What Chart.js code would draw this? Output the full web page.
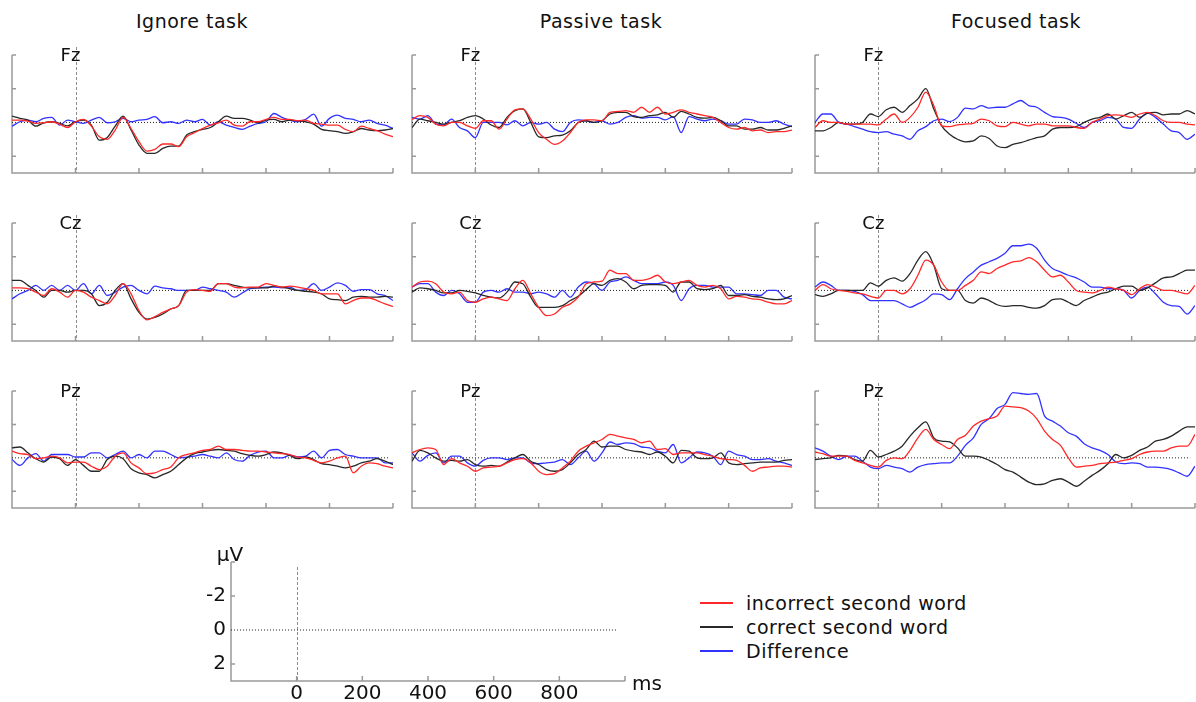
<!DOCTYPE html>
<html>
<head>
<meta charset="utf-8">
<script src="https://cdn.jsdelivr.net/npm/chart.js@4.4.1/dist/chart.umd.min.js"></script>
<style>
  body { margin: 0; background: #fff; width: 1196px; height: 702px; position: relative; overflow: hidden;
         font-family: "DejaVu Sans", sans-serif; color: #111; }
  canvas { position: absolute; }
  .title { position: absolute; top: 10px; width: 300px; font-size: 19px; letter-spacing: 0.5px; line-height: 22px; text-align: center; }
  .legend { position: absolute; left: 700px; top: 591px; font-size: 19px; letter-spacing: 0.5px; }
  .legend div { height: 24px; display: flex; align-items: center; white-space: nowrap; }
  .legend .ln { display: inline-block; width: 33px; height: 2px; margin-right: 13px; }
</style>
</head>
<body>
<div id="root"></div>
<script>
// time axis (ms) and ticks
const timeMs = [-200, -175, -150, -125, -100, -75, -50, -25,
  0, 25, 50, 75, 100, 125, 150, 175, 200, 225, 250, 275, 300, 325, 350, 375,
  400, 425, 450, 475, 500, 525, 550, 575, 600, 625, 650, 675, 700, 725, 750, 775,
  800, 825, 850, 875, 900, 925, 950, 975, 1000];
const xTicks = [0, 200, 400, 600, 800, 1000];
const yTicks = [-4, -2, 2];
const scaleYLabels = [-2, 0, 2];
const scaleXLabels = [0, 200, 400, 600, 800];
const zeroLineEnd = 985;

const taskNames = ["Ignore task", "Passive task", "Focused task"];
const electrodes = ["Fz", "Cz", "Pz"];
const seriesNames = ["incorrect second word", "correct second word", "Difference"];
const seriesColors = ["rgb(255,40,40)", "rgb(40,40,40)", "rgb(50,50,255)"];

// values in microvolts (negative plotted upward)
// Ignore task
const ignoreFzIncorrect = [-0.14, -0.14, -0.08, 0.06, 0.02, -0.04, 0.1, 0.3,
  -0.04, -0.18, 0.22, 0.85, 1.0, 0.45, -0.3, 0.36, 1.14, 1.7, 1.6, 1.28, 1.28, 1.44, 0.85, 0.61,
  0.36, 0.16, 0.02, -0.14, 0.16, 0.22, -0.04, -0.04, -0.18, -0.3, -0.18, -0.18, -0.1, -0.14, 0.06, 0.1,
  0.16, 0.16, 0.41, 0.55, 0.22, 0.36, 0.49, 0.69, 0.85];
const ignoreFzCorrect = [-0.37, -0.24, -0.14, 0.22, 0.02, -0.04, 0.06, 0.2,
  -0.04, -0.14, 0.16, 1.05, 0.89, 0.22, -0.37, 0.45, 1.34, 1.83, 1.83, 1.54, 1.4, 1.4, 0.75, 0.55,
  0.41, 0.3, -0.04, -0.37, -0.24, -0.24, -0.14, 0.02, -0.14, -0.18, -0.04, -0.14, -0.1, -0.04, 0.1, 0.41,
  0.49, 0.55, 0.65, 0.55, 0.36, 0.45, 0.49, 0.45, 0.36];
const ignoreFzDiff = [0.22, -0.04, -0.14, -0.04, -0.24, -0.3, 0.16, -0.14,
  -0.04, 0.06, -0.14, -0.3, 0.02, -0.04, -0.24, -0.04, -0.14, -0.18, -0.34, 0.02, -0.04, 0.06, -0.14, -0.04,
  -0.18, 0.16, -0.04, 0.16, 0.3, 0.41, 0.22, 0.06, -0.04, -0.53, -0.3, -0.14, -0.04, -0.18, -0.49, 0.22,
  -0.24, -0.43, -0.24, -0.18, -0.04, -0.14, 0.06, 0.16, 0.36];
const ignoreCzIncorrect = [-0.15, -0.15, -0.1, 0.1, 0.3, -0.1, 0.1, 0.4,
  0.0, 0.1, 0.4, 0.6, 0.8, 0.3, -0.4, 0.2, 1.2, 1.75, 1.55, 1.3, 1.1, 0.9, 0.1, -0.05,
  0.0, 0.05, -0.4, -0.4, -0.2, -0.15, -0.2, -0.2, -0.4, -0.3, -0.2, -0.25, -0.2, -0.1, 0.0, 0.2,
  0.2, 0.2, 0.8, 0.6, 0.45, 0.45, 0.6, 0.8, 0.95];
const ignoreCzCorrect = [-0.6, -0.6, -0.3, 0.0, 0.4, 0.0, 0.0, 0.1,
  0.0, 0.0, 0.2, 0.9, 0.7, 0.0, -0.4, 0.5, 1.3, 1.7, 1.6, 1.4, 1.1, 0.9, 0.0, 0.0,
  0.0, 0.0, -0.4, -0.4, -0.3, -0.2, -0.15, -0.15, -0.15, -0.25, -0.2, -0.1, 0.0, 0.05, 0.1, 0.2,
  0.5, 0.55, 0.6, 0.4, 0.35, 0.4, 0.4, 0.35, 0.4];
const ignoreCzDiff = [0.5, 0.2, 0.0, -0.3, 0.0, -0.3, 0.0, -0.3,
  0.0, -0.4, 0.2, -0.3, 0.3, 0.1, -0.2, -0.3, 0.0, 0.2, -0.25, -0.15, -0.1, 0.0, 0.0, 0.0,
  -0.2, -0.1, 0.0, 0.1, 0.4, 0.15, -0.1, -0.15, -0.2, -0.2, -0.15, -0.2, 0.0, -0.05, -0.4, 0.0,
  -0.2, -0.45, -0.3, 0.05, -0.05, -0.05, 0.2, 0.3, 0.6];
const ignorePzIncorrect = [-0.4, -0.25, -0.2, 0.05, 0.0, -0.1, 0.0, 0.3,
  0.25, 0.25, 0.5, 0.7, 0.5, -0.1, -0.3, 0.3, 0.6, 0.95, 0.9, 0.7, 0.55, 0.0, -0.2, -0.3,
  -0.45, -0.5, -0.7, -0.5, -0.5, -0.45, -0.4, -0.4, -0.35, -0.3, -0.25, -0.2, -0.05, 0.0, 0.15, 0.3,
  0.2, 0.0, -0.1, 0.9, 0.5, 0.3, 0.35, 0.5, 0.6];
const ignorePzCorrect = [-0.6, -0.65, -0.3, 0.05, 0.25, -0.05, 0.05, 0.45,
  0.1, 0.45, 0.8, 0.8, 0.1, -0.1, 0.05, 0.65, 0.9, 1.0, 1.2, 1.0, 0.8, 0.4, 0.0, -0.25,
  -0.35, -0.45, -0.5, -0.45, -0.4, -0.25, -0.15, -0.1, -0.2, -0.35, -0.3, -0.15, 0.05, -0.05, 0.1, 0.35,
  0.4, 0.5, 0.6, 0.5, 0.3, 0.2, 0.05, 0.2, 0.4];
const ignorePzDiff = [0.1, 0.45, 0.0, -0.25, 0.2, -0.2, -0.2, -0.2,
  -0.05, -0.05, -0.3, -0.3, 0.0, -0.2, -0.4, 0.0, -0.2, 0.0, -0.4, -0.4, -0.2, 0.0, -0.05, -0.1,
  -0.2, -0.1, 0.0, -0.3, 0.1, 0.2, -0.15, -0.35, -0.4, 0.0, 0.0, -0.15, -0.05, -0.1, -0.4, 0.0,
  -0.45, -0.5, -0.2, -0.1, 0.0, 0.0, 0.0, 0.3, 0.3];

// Passive task
const passiveFzIncorrect = [-0.18, -0.4, -0.3, 0.1, 0.2, 0.0, 0.0, 0.2,
  0.35, -0.1, -0.1, 0.4, -0.2, -0.75, -0.8, -0.2, 0.6, 1.0, 1.3, 1.1, 0.6, 0.0, -0.15, -0.15,
  -0.1, -0.6, -0.65, -0.7, -0.6, -0.9, -0.6, -0.9, -0.5, -0.6, -0.75, -0.6, -0.5, -0.4, -0.3, 0.0,
  0.3, 0.4, 0.3, 0.5, 0.45, 0.6, 0.55, 0.55, 0.45];
const passiveFzCorrect = [0.3, -0.2, -0.1, 0.0, 0.1, 0.0, -0.1, -0.3,
  -0.4, -0.2, 0.15, 0.3, -0.3, -0.7, -0.8, 0.0, 0.85, 0.9, 0.8, 0.75, 0.5, 0.0, -0.1, 0.0,
  -0.1, -0.5, -0.6, -0.6, -0.35, -0.3, -0.4, -0.45, -0.6, -0.3, -0.65, -0.5, -0.3, -0.25, -0.3, -0.1,
  0.2, 0.2, 0.4, 0.4, 0.3, 0.45, 0.45, 0.35, 0.2];
const passiveFzDiff = [-0.3, -0.2, -0.4, 0.1, 0.15, -0.2, 0.3, 0.5,
  0.9, 0.0, 0.0, 0.0, 0.15, -0.1, 0.2, 0.0, 0.1, 0.0, 0.4, 0.55, 0.0, -0.15, -0.1, 0.0,
  -0.1, 0.1, 0.0, -0.3, -0.4, -0.25, -0.3, -0.3, -0.15, -0.35, 0.6, -0.35, -0.2, -0.1, -0.2, -0.1,
  0.1, 0.1, -0.2, -0.15, 0.0, 0.0, -0.1, 0.1, 0.25];
const passiveCzIncorrect = [-0.2, -0.5, -0.55, -0.4, 0.1, 0.2, 0.1, 0.6,
  0.7, 0.5, 0.4, 0.5, 0.6, -0.1, -0.6, 0.2, 1.0, 1.5, 1.4, 1.0, 0.8, 0.4, -0.4, -0.5,
  -0.55, -1.2, -1.0, -1.0, -0.6, -0.6, -0.7, -0.9, -0.5, -0.4, -0.5, -0.6, -0.3, -0.2, -0.3, -0.1,
  0.5, 0.35, 0.4, 0.5, 0.55, 0.7, 0.8, 0.8, 0.6];
const passiveCzCorrect = [0.1, -0.15, -0.1, 0.0, 0.15, 0.15, 0.0, 0.05,
  0.15, 0.3, 0.4, 0.45, 0.1, -0.5, -0.4, 0.4, 1.0, 1.0, 1.0, 0.9, 0.6, 0.35, -0.05, -0.4,
  -0.3, -0.6, -0.7, -0.5, -0.1, -0.3, -0.35, -0.35, -0.3, 0.1, -0.5, -0.5, -0.1, -0.05, -0.1, -0.3,
  0.3, 0.3, 0.25, 0.35, 0.4, 0.5, 0.55, 0.5, 0.3];
const passiveCzDiff = [-0.2, -0.4, -0.4, 0.1, 0.3, 0.0, 0.2, 0.7,
  0.7, 0.1, 0.0, 0.1, -0.1, 0.1, 0.1, 0.2, 0.1, 0.2, 0.4, 0.0, 0.4, -0.2, -0.5, -0.4,
  0.0, -0.5, -0.6, -0.8, -0.6, -0.4, -0.4, -0.4, -0.5, -0.3, 0.6, -0.1, -0.3, -0.3, -0.2, -0.2,
  -0.2, 0.2, 0.2, 0.25, 0.3, 0.0, 0.0, 0.4, 0.5];
const passivePzIncorrect = [-0.3, -0.5, -0.6, -0.5, 0.4, 0.05, 0.3, 0.5,
  0.8, 0.6, 0.55, 0.5, 0.3, 0.1, 0.05, 0.3, 0.8, 1.0, 0.95, 0.6, 0.2, -0.4, -0.7, -0.9,
  -1.1, -1.4, -1.3, -1.2, -1.1, -0.9, -1.0, -0.5, -0.55, -0.2, -0.3, -0.3, -0.3, -0.2, -0.1, 0.05,
  0.1, 0.15, 0.45, 0.8, 0.6, 0.55, 0.5, 0.5, 0.55];
const passivePzCorrect = [0.2, -0.45, -0.3, 0.0, 0.2, 0.15, 0.2, 0.1,
  0.4, 0.5, 0.45, 0.5, 0.25, 0.0, -0.2, 0.2, 0.4, 0.7, 0.8, 0.7, 0.3, -0.2, -0.5, -1.0,
  -0.65, -0.7, -0.7, -0.5, -0.4, -0.35, -0.2, -0.35, -0.1, 0.3, -0.45, -0.4, 0.0, 0.05, 0.0, -0.3,
  0.3, 0.4, 0.35, 0.3, 0.25, 0.25, 0.25, 0.15, 0.1];
const passivePzDiff = [-0.3, 0.2, -0.15, -0.3, 0.3, -0.1, -0.1, 0.3,
  0.5, 0.15, 0.0, 0.0, 0.1, 0.0, 0.0, 0.3, 0.35, 0.3, 0.25, 0.1, 0.4, 0.0, -0.4, 0.2,
  -0.3, -0.95, -0.8, -0.9, -0.85, -0.65, -0.6, -0.4, -0.3, -0.8, 0.3, 0.0, -0.35, -0.3, -0.1, 0.4,
  -0.4, -0.2, -0.1, 0.1, 0.1, 0.05, 0.2, 0.3, 0.45];

// Focused task
const focusedFzIncorrect = [0.3, -0.1, 0.0, 0.0, 0.1, 0.1, 0.1, 0.1,
  0.15, -0.2, -0.5, 0.0, -0.3, -0.9, -1.8, -1.0, 0.2, 0.25, 0.15, 0.1, 0.05, -0.2, -0.1, 0.2,
  0.25, 0.0, 0.1, 0.2, 0.1, 0.1, 0.2, 0.2, 0.2, 0.3, 0.35, 0.0, -0.2, -0.4, -0.45, -0.4,
  -0.3, -0.5, -0.6, -0.4, -0.1, 0.0, 0.0, 0.1, 0.15];
const focusedFzCorrect = [0.5, 0.5, 0.3, 0.0, 0.1, 0.1, 0.0, -0.5,
  -0.35, -0.75, -0.9, -0.6, -1.0, -1.4, -2.0, -0.8, 0.2, 0.7, 1.0, 1.15, 1.1, 0.8, 0.95, 1.4,
  1.5, 1.3, 1.2, 1.05, 0.9, 0.8, 0.4, 0.3, 0.3, 0.25, 0.0, -0.2, -0.3, -0.5, -0.2, -0.4,
  -0.6, -0.3, -0.55, -0.6, -0.45, -0.5, -0.5, -0.7, -0.5];
const focusedFzDiff = [0.0, -0.5, -0.5, 0.0, 0.1, 0.25, 0.4, 0.55,
  0.6, 0.55, 0.7, 0.8, 1.0, 0.5, 0.25, -0.1, -0.2, -0.05, -0.3, -0.85, -0.8, -1.0, -0.85, -0.9,
  -0.9, -1.1, -1.3, -1.0, -0.9, -0.6, -0.35, -0.3, -0.2, 0.05, 0.3, 0.0, -0.1, -0.3, -0.2, 0.3,
  0.35, -0.2, -0.55, -0.3, 0.1, 0.5, 0.6, 1.0, 0.7];
const focusedCzIncorrect = [0.0, -0.35, -0.1, 0.0, 0.05, 0.15, 0.2, 0.35,
  0.45, 0.0, 0.0, 0.2, -0.1, -0.9, -1.8, -1.5, -0.5, 0.0, 0.0, -0.3, -0.6, -1.1, -1.0, -1.3,
  -1.5, -1.7, -1.75, -1.95, -1.7, -1.2, -0.8, -0.9, -0.5, 0.0, 0.1, 0.15, 0.0, -0.2, -0.1, 0.0,
  0.25, -0.1, -0.35, -0.2, 0.0, 0.0, 0.1, 0.2, -0.3];
const focusedCzCorrect = [0.25, 0.35, 0.2, 0.0, 0.0, 0.0, 0.0, -0.45,
  -0.25, -0.6, -0.75, -0.55, -1.0, -1.8, -2.3, -1.5, -0.1, 0.0, 0.0, 0.6, 0.75, 0.45, 0.6, 0.85,
  0.95, 0.9, 0.9, 1.0, 1.05, 0.9, 0.55, 0.5, 0.7, 0.9, 0.6, 0.4, 0.2, 0.1, -0.1, -0.25,
  -0.25, 0.0, -0.15, -0.45, -0.75, -0.8, -1.0, -1.2, -1.2];
const focusedCzDiff = [-0.2, -0.5, -0.3, 0.0, 0.0, 0.05, 0.25, 0.6,
  0.6, 0.6, 0.6, 0.8, 1.0, 0.8, 0.55, 0.2, 0.25, 0.55, -0.1, -0.7, -1.1, -1.5, -1.7, -1.9,
  -2.2, -2.65, -2.65, -2.75, -2.5, -1.8, -1.3, -1.1, -0.9, -0.75, -0.5, -0.2, -0.2, -0.1, -0.1, 0.0,
  0.45, 0.0, -0.2, 0.2, 0.7, 0.9, 0.95, 1.4, 0.9];
const focusedPzIncorrect = [-0.35, -0.25, -0.1, -0.1, -0.1, 0.15, 0.3, 0.45,
  0.55, 0.15, 0.0, 0.05, -0.45, -1.2, -1.7, -1.1, -0.8, -0.55, -1.1, -1.35, -1.9, -2.2, -2.35, -2.5,
  -3.1, -3.05, -3.0, -2.8, -2.35, -1.6, -1.1, -0.75, 0.0, 0.55, 0.5, 0.45, 0.35, 0.3, 0.25, 0.15,
  0.05, -0.2, -0.35, -0.4, -0.4, -0.6, -0.7, -0.7, -1.4];
const focusedPzCorrect = [0.1, 0.05, 0.0, -0.15, -0.1, 0.1, 0.2, -0.45,
  -0.05, -0.2, -0.4, -0.7, -1.3, -1.8, -2.15, -1.2, -1.0, -0.95, -0.6, -0.1, -0.1, -0.05, 0.15, 0.4,
  0.7, 0.85, 1.15, 1.45, 1.6, 1.55, 1.35, 1.25, 1.45, 1.7, 1.4, 1.05, 0.75, 0.35, -0.2, 0.0,
  -0.15, -0.45, -0.65, -1.0, -1.1, -1.3, -1.6, -1.85, -1.85];
const focusedPzDiff = [-0.6, -0.4, -0.1, 0.1, -0.1, -0.1, 0.2, 0.55,
  0.65, 0.45, 0.55, 0.65, 0.85, 0.55, 0.4, 0.35, 0.3, 0.3, -0.1, -0.75, -1.2, -2.0, -2.35, -2.95,
  -3.2, -3.9, -3.85, -3.8, -3.85, -2.5, -2.2, -1.9, -1.5, -1.3, -0.85, -0.6, -0.45, -0.2, 0.25, 0.35,
  0.3, 0.35, 0.55, 0.55, 0.6, 0.7, 0.9, 1.1, 0.5];

const panels = [
  [[ignoreFzIncorrect, ignoreFzCorrect, ignoreFzDiff], [passiveFzIncorrect, passiveFzCorrect, passiveFzDiff], [focusedFzIncorrect, focusedFzCorrect, focusedFzDiff]],
  [[ignoreCzIncorrect, ignoreCzCorrect, ignoreCzDiff], [passiveCzIncorrect, passiveCzCorrect, passiveCzDiff], [focusedCzIncorrect, focusedCzCorrect, focusedCzDiff]],
  [[ignorePzIncorrect, ignorePzCorrect, ignorePzDiff], [passivePzIncorrect, passivePzCorrect, passivePzDiff], [focusedPzIncorrect, focusedPzCorrect, focusedPzDiff]]
];

// layout (pixel boxes of each plot area)
const colLeft = [12, 412, 815], colRight = [393, 792, 1195];
const rowTop = [55, 223, 391], rowBottom = [173, 341, 508];
const titleCenter = [192, 601, 1016];
const pad = { left: 6, right: 6, top: 22, bottom: 6 };

const root = document.getElementById("root");

// draws the axis frame, inward ticks, stimulus line and labels
const erpAxes = {
  id: "erpAxes",
  beforeDatasetsDraw(chart, args, opts) {
    const { ctx, chartArea: a, scales: { x, y } } = chart;
    ctx.save();
    const x0 = Math.round(x.getPixelForValue(0)) + 0.5;
    ctx.strokeStyle = "#8c8c8c";
    ctx.lineWidth = 1;
    ctx.setLineDash([3, 2]);
    ctx.beginPath();
    ctx.moveTo(x0, a.top - opts.stimTop);
    ctx.lineTo(x0, a.bottom);
    ctx.stroke();
    ctx.setLineDash([]);

    ctx.strokeStyle = "#999";
    ctx.lineWidth = 1.5;
    ctx.beginPath();
    ctx.moveTo(a.left, a.top);
    ctx.lineTo(a.left, a.bottom);
    ctx.lineTo(a.right, a.bottom);
    opts.yTicks.forEach(v => {
      const py = y.getPixelForValue(v);
      ctx.moveTo(a.left, py); ctx.lineTo(a.left + 4, py);
    });
    xTicks.forEach(v => {
      const px = x.getPixelForValue(v);
      ctx.moveTo(px, a.bottom); ctx.lineTo(px, a.bottom - 5);
    });
    ctx.stroke();
    ctx.restore();
  },
  afterDraw(chart, args, opts) {
    const { ctx, chartArea: a, scales: { x, y } } = chart;
    ctx.save();
    ctx.fillStyle = "#111";
    if (opts.label) {
      ctx.font = '18px "DejaVu Sans"';
      ctx.textAlign = "center";
      ctx.textBaseline = "alphabetic";
      ctx.fillText(opts.label, x.getPixelForValue(0) - 5, a.top + 6);
    }
    if (opts.tickLabels) {
      ctx.font = '20px "DejaVu Sans"';
      ctx.textAlign = "right";
      ctx.textBaseline = "middle";
      scaleYLabels.forEach(v => ctx.fillText(String(v), a.left - 5, y.getPixelForValue(v)));
      ctx.textAlign = "center";
      ctx.textBaseline = "alphabetic";
      scaleXLabels.forEach(v => ctx.fillText(String(v), x.getPixelForValue(v), a.bottom + 18));
      ctx.fillText("\u00b5V", a.left - 1, a.top - 1);
      ctx.textAlign = "left";
      ctx.fillText("ms", a.right + 7, a.bottom + 9);
    }
    ctx.restore();
  }
};

function zeroLine(end) {
  return {
    data: [{ x: -200, y: 0 }, { x: end, y: 0 }],
    borderColor: "#222", borderWidth: 1, borderDash: [1, 2], cubicInterpolationMode: "default", tension: 0
  };
}

function makePanel(L, R, T, B, datasets, pluginOpts, extraPad) {
  const p = Object.assign({}, pad, extraPad || {});
  const cv = document.createElement("canvas");
  cv.width = R - L + p.left + p.right;
  cv.height = B - T + p.top + p.bottom;
  cv.style.left = (L - p.left) + "px";
  cv.style.top = (T - p.top) + "px";
  root.appendChild(cv);
  return new Chart(cv, {
    type: "line",
    data: { datasets: datasets },
    options: {
      responsive: false,
      animation: false,
      layout: { padding: p },
      elements: { point: { radius: 0 }, line: { borderWidth: 1.3, cubicInterpolationMode: "monotone" } },
      plugins: { legend: { display: false }, tooltip: { enabled: false }, erpAxes: pluginOpts },
      scales: {
        x: { type: "linear", min: -200, max: 1000, display: false },
        y: { type: "linear", min: -4, max: 3, reverse: true, display: false }
      }
    },
    plugins: [erpAxes]
  });
}

// titles
taskNames.forEach((name, c) => {
  const d = document.createElement("div");
  d.className = "title";
  d.style.left = (titleCenter[c] - 150) + "px";
  d.textContent = name;
  root.appendChild(d);
});

// 3x3 grid of panels
for (let r = 0; r < 3; r++) {
  for (let c = 0; c < 3; c++) {
    const sets = panels[r][c].map((vals, k) => ({
      label: seriesNames[k],
      data: timeMs.map((t, i) => ({ x: t, y: vals[i] })),
      borderColor: seriesColors[k]
    }));
    sets.push(zeroLine(zeroLineEnd));
    makePanel(colLeft[c], colRight[c], rowTop[r], rowBottom[r], sets,
      { label: electrodes[r], stimTop: 8, yTicks: yTicks, tickLabels: false });
  }
}

// scale panel
makePanel(231, 625, 562, 681, [zeroLine(975)],
  { label: "", stimTop: -5, yTicks: yTicks, tickLabels: true },
  { left: 40, right: 45, top: 25, bottom: 25 });

// legend
const lg = document.createElement("div");
lg.className = "legend";
seriesNames.forEach((name, k) => {
  const row = document.createElement("div");
  const ln = document.createElement("span");
  ln.className = "ln";
  ln.style.background = seriesColors[k];
  row.appendChild(ln);
  row.appendChild(document.createTextNode(name));
  lg.appendChild(row);
});
root.appendChild(lg);
</script>
</body>
</html>
